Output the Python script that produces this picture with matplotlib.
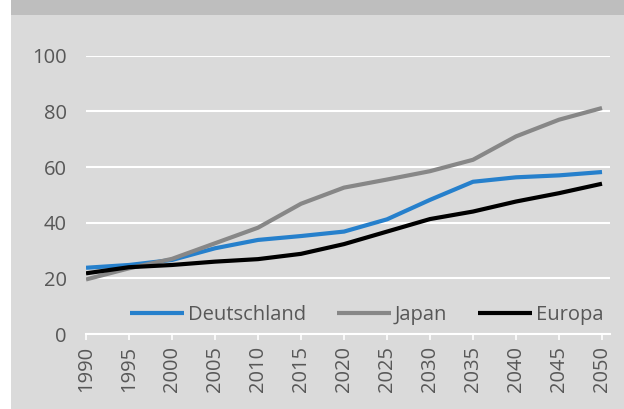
import matplotlib.pyplot as plt
from matplotlib.patches import Rectangle

years = [1990, 1995, 2000, 2005, 2010, 2015, 2020, 2025, 2030, 2035, 2040, 2045, 2050]
deutschland = [23.8, 24.8, 26.6, 30.8, 33.8, 35.2, 36.8, 41.2, 48.2, 54.7, 56.3, 57.0, 58.2]
japan = [19.6, 23.6, 27.0, 32.6, 38.2, 46.8, 52.6, 55.5, 58.5, 62.6, 71.0, 77.0, 81.2]
europa = [21.8, 24.0, 24.8, 26.0, 26.9, 28.8, 32.3, 36.8, 41.3, 44.0, 47.6, 50.6, 54.0]

BG = "#dadada"
TXT = "#575757"


def main():
    plt.rcParams["font.family"] = ["Open Sans", "DejaVu Sans"]
    fig = plt.figure(figsize=(6.24, 4.09), dpi=100, facecolor=BG)
    W, H = 624, 409

    # white strip on the left and gray header bar
    fig.patches.append(Rectangle((0, 0), 11 / W, 1, transform=fig.transFigure,
                                 facecolor="white", edgecolor="none", zorder=-2))
    fig.patches.append(Rectangle((11 / W, 1 - 15 / H), 1, 15 / H, transform=fig.transFigure,
                                 facecolor="#bebebe", edgecolor="none", zorder=-1))

    left, right, bottom, top = 86, 610, 334, 55.7
    ax = fig.add_axes([left / W, 1 - bottom / H, (right - left) / W, (bottom - top) / H])
    ax.set_facecolor("none")

    ax.plot(years, deutschland, color="#2680cc", lw=3, label="Deutschland", solid_capstyle="butt")
    ax.plot(years, japan, color="#878787", lw=3, label="Japan", solid_capstyle="butt")
    ax.plot(years, europa, color="black", lw=3, label="Europa", solid_capstyle="butt")

    ax.set_xlim(1990, 2050 + 8 / 43 * 5)
    ax.set_ylim(0, 100)
    ax.set_xticks(years)
    ax.set_xticklabels([str(y) for y in years], rotation=90)
    ax.set_yticks([0, 20, 40, 60, 80, 100])

    ax.grid(axis="y", color="white", lw=1.5)
    ax.set_axisbelow(True)
    for s in ["top", "right", "left"]:
        ax.spines[s].set_visible(False)
    ax.spines["bottom"].set_color("white")
    ax.spines["bottom"].set_linewidth(1.5)
    ax.tick_params(axis="x", colors="white", length=4.5, width=1.2, pad=4, labelcolor=TXT, labelsize=14.5)
    ax.tick_params(axis="y", length=0, pad=14, labelcolor=TXT, labelsize=14.5)

    ax.legend(loc="center right", bbox_to_anchor=(1.007, 0.068), ncol=3, frameon=False,
              handlelength=2.7, handletextpad=0.2, columnspacing=1.5, borderpad=0,
              fontsize=14.5, labelcolor=TXT)

    fig.savefig("out.png", dpi=100, facecolor=BG)


if __name__ == "__main__":
    main()
